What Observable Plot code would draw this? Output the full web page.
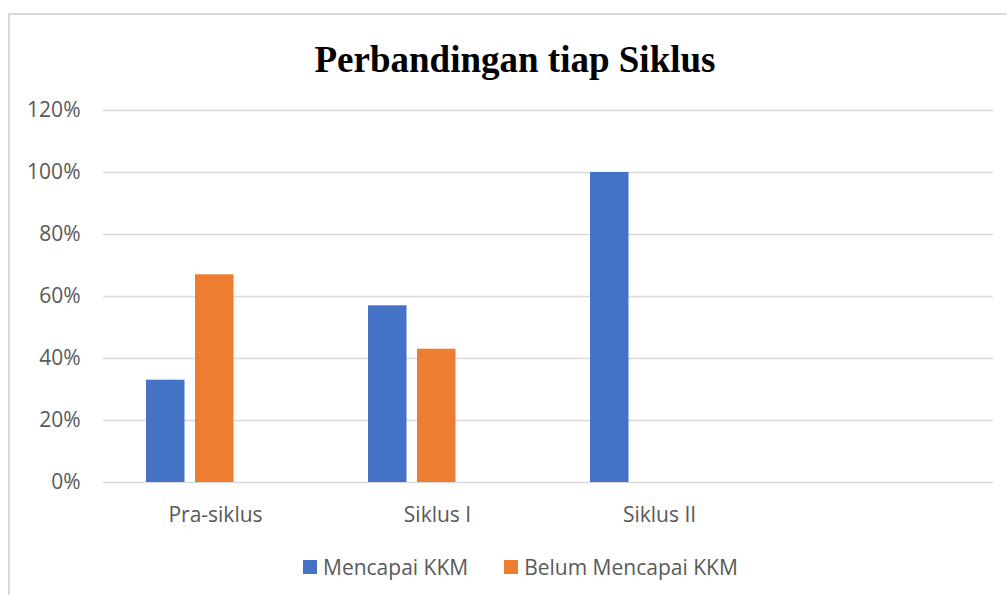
<!DOCTYPE html>
<html>
<head>
<meta charset="utf-8">
<script src="https://cdn.jsdelivr.net/npm/d3@7"></script>
<script src="https://cdn.jsdelivr.net/npm/@observablehq/plot@0.6"></script>
<style>
  html, body { margin: 0; padding: 0; background: #fff; }
  body { width: 1007px; height: 595px; overflow: hidden; position: relative; }
  #frame { position: absolute; left: 8px; top: 13px; width: 1030px; height: 620px;
           border: 2px solid #d9d9d9; box-sizing: border-box; }
  #title { position: absolute; left: 0; width: 1030px; top: 41px; text-align: center;
           font-family: "Liberation Serif", "Times New Roman", serif; font-weight: bold;
           font-size: 37px; line-height: 37px; color: #000; }
  #chart { position: absolute; left: 0; top: 0; }
  #legend { position: absolute; left: 303px; top: 550px; }
  div.lg-swatches .lg-swatch { margin-right: 36px; }
  div.lg-swatches .lg-swatch > svg { margin-right: 6px; }
</style>
</head>
<body>
<div id="frame"></div>
<div id="title">Perbandingan tiap Siklus</div>
<div id="chart"></div>
<div id="legend"></div>
<script>
const categories = ["Pra-siklus", "Siklus I", "Siklus II", ""];
const series = ["Mencapai KKM", "Belum Mencapai KKM"];
const mencapai = [0.33, 0.57, 1.00];
const belum = [0.67, 0.43, 0.00];
const yTicks = [0, 0.2, 0.4, 0.6, 0.8, 1.0, 1.2];
const colors = ["#4472C4", "#ED7D31"];

const rowsA = mencapai.map((v, i) => ({category: categories[i], series: series[0], value: v}));
const rowsB = belum.map((v, i) => ({category: categories[i], series: series[1], value: v}));

const font = {fontFamily: "'Open Sans', sans-serif", fontSize: "21px", color: "#595959", background: "transparent"};

const plot = Plot.plot({
  width: 1007,
  height: 540,
  marginLeft: 103,
  marginRight: 14,
  marginTop: 110,
  marginBottom: 58,
  style: font,
  x: {domain: categories, paddingInner: 0, paddingOuter: 0, label: null, tickSize: 0, tickPadding: 25},
  y: {domain: [0, 1.2], ticks: yTicks, tickFormat: d3.format(".0%"), label: null, tickSize: 0, tickPadding: 23},
  color: {domain: series, range: colors},
  marks: [
    Plot.gridY(yTicks, {stroke: "#d9d9d9", strokeOpacity: 1, strokeWidth: 1.6}),
    Plot.barY(rowsA, {x: "category", y: "value", fill: "series", insetLeft: 42, insetRight: 141.5}),
    Plot.barY(rowsB, {x: "category", y: "value", fill: "series", insetLeft: 91, insetRight: 92.5}),
    Plot.axisX({tickSize: 0, tickPadding: 25, fill: "#595959"}),
    Plot.axisY({ticks: yTicks, tickFormat: d3.format(".0%"), tickSize: 0, tickPadding: 23, fill: "#595959"})
  ]
});
document.getElementById("chart").appendChild(plot);

const legend = Plot.legend({
  color: {domain: series, range: colors},
  swatchSize: 14,
  className: "lg",
  style: {fontFamily: "'Open Sans', sans-serif", fontSize: "21px", color: "#595959", margin: "0"}
});
document.getElementById("legend").appendChild(legend);
</script>
</body>
</html>
